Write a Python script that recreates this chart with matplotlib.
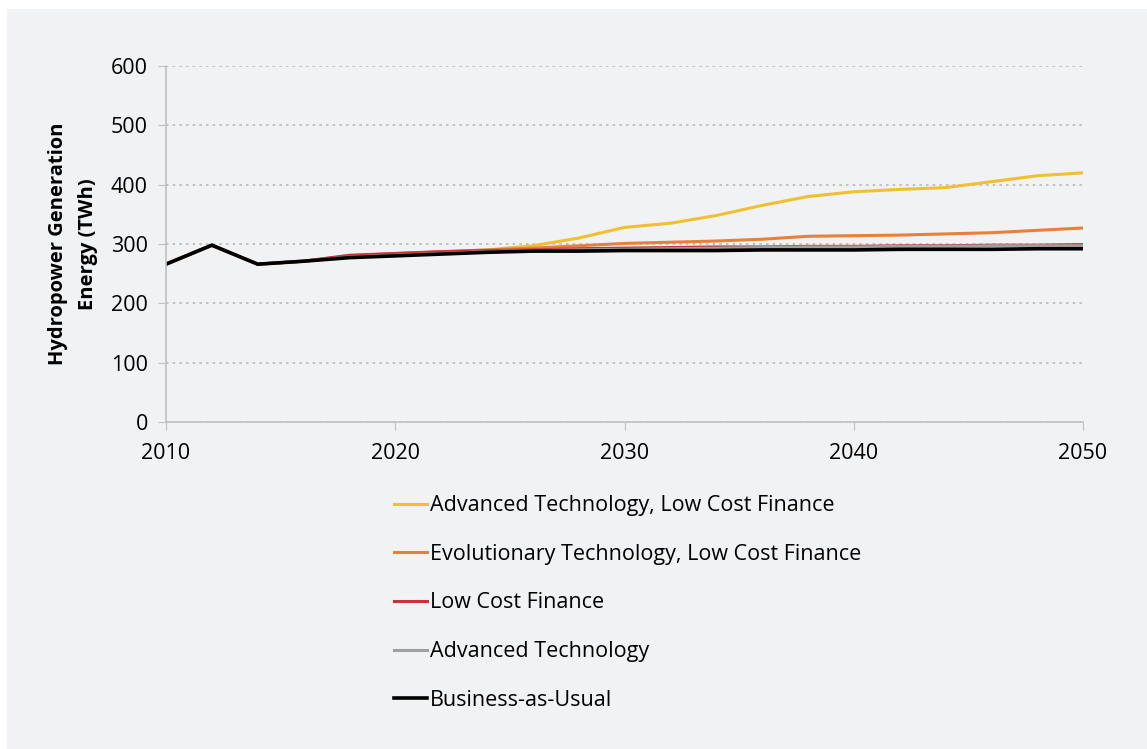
import matplotlib.pyplot as plt
from matplotlib.patches import Rectangle

plt.rcParams['font.family'] = ['Open Sans', 'DejaVu Sans']

# Data (every 2 years, 2010-2050)
years = list(range(2010, 2051, 2))

adv_tech_low_cost = [266, 298, 266, 271, 279, 283, 286, 290, 297, 310, 328,
                     335, 348, 365, 380, 388, 392, 395, 405, 415, 420]
evo_tech_low_cost = [266, 298, 266, 271, 280, 284, 287, 290, 293, 297, 301,
                     303, 305, 308, 313, 314, 315, 317, 319, 323, 327]
low_cost_finance = [266, 298, 266, 271, 281, 284, 287, 289, 290, 292, 293,
                    294, 295, 295, 296, 296, 297, 297, 298, 298, 299]
adv_tech = [266, 298, 266, 271, 278, 281, 284, 287, 289, 290, 291,
            292, 293, 294, 295, 295, 296, 296, 297, 297, 297]
bau = [266, 298, 266, 271, 277, 280, 283, 286, 288, 288, 289,
       289, 289, 290, 290, 290, 291, 291, 291, 292, 292]

labels = ["Advanced Technology, Low Cost Finance",
          "Evolutionary Technology, Low Cost Finance",
          "Low Cost Finance",
          "Advanced Technology",
          "Business-as-Usual"]
colors = ["#f0c030", "#e8803a", "#c8323a", "#a0a0a0", "#000000"]
series = [adv_tech_low_cost, evo_tech_low_cost, low_cost_finance, adv_tech, bau]

fig = plt.figure(figsize=(11.47, 7.49), dpi=100)
fig.patch.set_facecolor("white")
# grey panel behind the chart
fig.patches.append(Rectangle((7 / 1147, 0), 1 - 7 / 1147, 1 - 9 / 749,
                             transform=fig.transFigure, facecolor="#f1f2f4",
                             edgecolor="none", zorder=-10))

ax = fig.add_axes([166 / 1147, 1 - 422 / 749, (1083 - 166) / 1147, (422 - 66) / 749])
ax.set_facecolor("none")

for vals, lab, col in zip(series, labels, colors):
    lw = 2.6 if col == "#000000" else 2.2
    ax.plot(years, vals, color=col, lw=lw, label=lab)

ax.set_xlim(2010, 2050)
ax.set_ylim(0, 600)
ax.set_xticks([2010, 2020, 2030, 2040, 2050])
ax.set_yticks(range(0, 601, 100))
ax.yaxis.grid(True, linestyle=(0, (1.5, 2.5)), color="#b8b8b8", lw=1.2)
ax.set_axisbelow(True)

for s in ["top", "right"]:
    ax.spines[s].set_visible(False)
for s in ["left", "bottom"]:
    ax.spines[s].set_color("#c0c0c0")
    ax.spines[s].set_linewidth(1.2)

ax.tick_params(axis="y", length=6, color="#c0c0c0", labelsize=15.5, pad=7)
ax.tick_params(axis="x", length=6, color="#c0c0c0", labelsize=15.5, pad=9)

ax.set_ylabel("Hydropower Generation\nEnergy (TWh)", fontsize=14.5,
              fontweight="bold", labelpad=9, linespacing=1.7)

leg = fig.legend(loc="upper left", bbox_to_anchor=(375 / 1147, 1 - 476 / 749),
                 frameon=False, fontsize=15.5, handlelength=1.5, handletextpad=0.15,
                 labelspacing=1.28)

fig.savefig("out.png", dpi=100)
